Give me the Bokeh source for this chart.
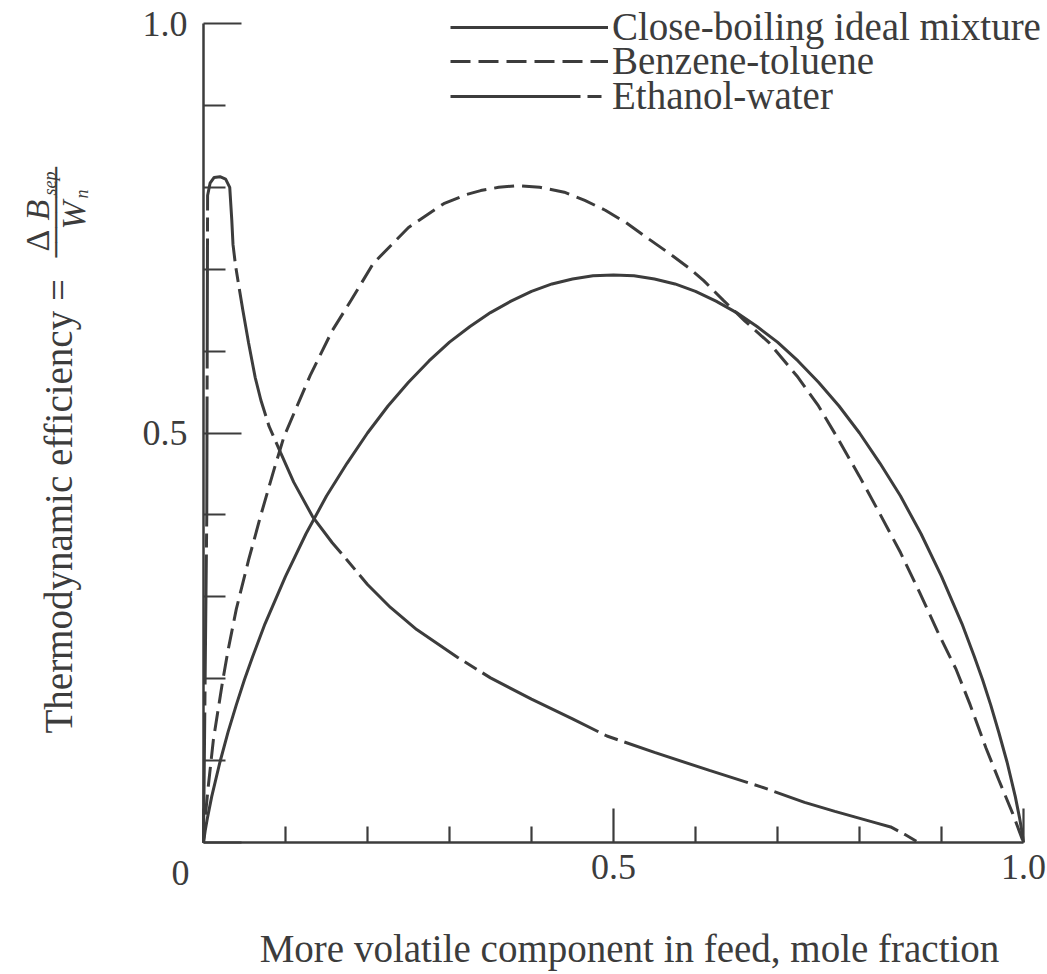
from math import pi
from bokeh.plotting import figure
from bokeh.models import Range1d, FixedTicker, Legend, LegendItem, Label
from bokeh.embed import file_html
from bokeh.resources import INLINE

# ---- data ----
ideal_x = [0, 0.002, 0.005, 0.01, 0.02, 0.03, 0.04, 0.05, 0.06, 0.075, 0.1, 0.125, 0.15, 0.175,
           0.2, 0.225, 0.25, 0.275, 0.3, 0.325, 0.35, 0.375, 0.4, 0.425, 0.45, 0.475, 0.5,
           0.525, 0.55, 0.575, 0.6, 0.625, 0.65, 0.675, 0.7, 0.725, 0.75, 0.775, 0.8, 0.825,
           0.85, 0.875, 0.9, 0.925, 0.94, 0.95, 0.96, 0.97, 0.98, 0.99, 0.995, 0.998, 1.0]
ideal_y = [0, 0.014, 0.031, 0.056, 0.098, 0.135, 0.168, 0.199, 0.227, 0.267, 0.325, 0.377,
           0.423, 0.463, 0.50, 0.533, 0.562, 0.588, 0.611, 0.630, 0.647, 0.661, 0.673, 0.682,
           0.688, 0.692, 0.693, 0.692, 0.688, 0.682, 0.673, 0.661, 0.647, 0.630, 0.611, 0.588,
           0.562, 0.533, 0.50, 0.463, 0.423, 0.377, 0.325, 0.267, 0.227, 0.199, 0.168, 0.134,
           0.098, 0.056, 0.031, 0.014, 0]

benz_x = [0, 0.003, 0.006, 0.012, 0.023, 0.03, 0.04, 0.055, 0.07, 0.085, 0.098, 0.115, 0.13,
          0.157, 0.18, 0.207, 0.25, 0.293, 0.32, 0.338, 0.36, 0.383, 0.41, 0.44, 0.465, 0.49,
          0.515, 0.54, 0.567, 0.594, 0.61, 0.634, 0.66, 0.69, 0.725, 0.75, 0.772, 0.80, 0.825,
          0.85, 0.873, 0.895, 0.918, 0.935, 0.954, 0.97, 0.987, 1.0]
benz_y = [0, 0.04, 0.07, 0.125, 0.195, 0.235, 0.285, 0.345, 0.40, 0.452, 0.495, 0.535, 0.57,
          0.625, 0.662, 0.707, 0.751, 0.780, 0.791, 0.796, 0.800, 0.802, 0.800, 0.794, 0.784,
          0.772, 0.757, 0.739, 0.720, 0.700, 0.686, 0.662, 0.637, 0.610, 0.568, 0.533, 0.496,
          0.447, 0.401, 0.354, 0.306, 0.258, 0.211, 0.168, 0.116, 0.076, 0.035, 0]

eth_x = [0, 0.004, 0.005, 0.008, 0.013, 0.02, 0.027, 0.032, 0.0345, 0.036, 0.039, 0.043,
         0.048, 0.055, 0.063, 0.07, 0.08, 0.094, 0.11, 0.133, 0.157, 0.175, 0.2, 0.228, 0.26,
         0.31, 0.35, 0.40, 0.45, 0.492, 0.55, 0.617, 0.68, 0.733, 0.77, 0.795, 0.82, 0.838,
         0.855, 0.872]
eth_y = [0, 0.40, 0.79, 0.805, 0.812, 0.813, 0.81, 0.80, 0.76, 0.73, 0.705, 0.68, 0.65, 0.61,
         0.568, 0.54, 0.508, 0.476, 0.44, 0.398, 0.366, 0.345, 0.315, 0.287, 0.26, 0.226,
         0.201, 0.175, 0.151, 0.130, 0.110, 0.088, 0.068, 0.049, 0.038, 0.031, 0.024, 0.019,
         0.010, 0]

series_names = ["Close-boiling ideal mixture", "Benzene-toluene", "Ethanol-water"]

major_ticks = [0, 0.5, 1.0]
minor_ticks = [0.1, 0.2, 0.3, 0.4, 0.6, 0.7, 0.8, 0.9]
tick_labels = {0: "", 0.5: "0.5", 1.0: "1.0"}
origin_label = "0"
x_title = "More volatile component in feed, mole fraction"
y_title = "Thermodynamic efficiency  ="

INK = "#3c3c3c"
FONT = "Liberation Serif"
FS = "36px"
FS_TITLE = "39px"

W, H = 1047, 974
X0, X1 = 203, 1023      # canvas pixels of x = 0 and x = 1
Y0, Y1 = 842, 23        # canvas pixels of y = 0 and y = 1
SX, SY = X1 - X0, Y0 - Y1

p = figure(width=W, height=H,
           x_range=Range1d(-X0 / SX, (W - X0) / SX),
           y_range=Range1d(-(H - Y0) / SY, Y0 / SY),
           output_backend="svg", toolbar_location=None,
           min_border_left=0, min_border_right=0, min_border_top=0, min_border_bottom=0)
p.outline_line_color = None
p.grid.visible = False
p.background_fill_color = "white"
p.border_fill_color = "white"

for ax in (p.xaxis[0], p.yaxis[0]):
    ax.fixed_location = 0
    ax.ticker = FixedTicker(ticks=major_ticks, minor_ticks=minor_ticks)
    ax.major_label_overrides = tick_labels
    ax.axis_line_color = INK
    ax.axis_line_width = 2.5
    ax.major_tick_line_color = INK
    ax.minor_tick_line_color = INK
    ax.major_tick_line_width = 2.2
    ax.minor_tick_line_width = 2.2
    ax.major_tick_out = 0
    ax.minor_tick_out = 0
    ax.major_label_text_font = FONT
    ax.major_label_text_font_size = FS
    ax.major_label_text_color = INK
    ax.bounds = (0, 1)

p.xaxis.major_tick_in = 34
p.xaxis.minor_tick_in = 16
p.xaxis.major_label_standoff = 12
p.yaxis.major_tick_in = 38
p.yaxis.minor_tick_in = 22
p.yaxis.major_label_standoff = 16

r1 = p.line(ideal_x, ideal_y, line_color=INK, line_width=3)
r2 = p.line(benz_x, benz_y, line_color=INK, line_width=3, line_dash="20 8")
r3 = p.line(eth_x, eth_y, line_color=INK, line_width=3, line_dash="130 7 14 7")

# one legend per row so the rows sit as closely as in the original
row_centres = [27, 61, 96]
for name, rend, cy in zip(series_names, [r1, r2, r3], row_centres):
    lg = Legend(items=[LegendItem(label=name, renderers=[rend])],
                location=(450, H - cy - 22), glyph_width=158, glyph_height=30,
                label_height=30, spacing=0, padding=0, margin=0, label_standoff=4,
                label_text_font=FONT, label_text_font_size=FS_TITLE, label_text_color=INK,
                border_line_alpha=0, background_fill_alpha=0)
    p.add_layout(lg)


def lab(text, X, Y, size=FS, angle=0.0, align="center", style="normal", font=FONT):
    # X, Y: intended canvas pixel position, mapped into the data space of the frame
    p.add_layout(Label(x=(X - X0) / SX, y=(Y0 - Y) / SY, text=text,
                       angle=angle, text_align=align, text_baseline="middle",
                       text_font=font, text_font_size=size, text_color=INK,
                       text_font_style=style))


lab(origin_label, 180, 872)
lab(x_title, 629, 948, size=FS_TITLE)
lab(y_title, 58, 733, size="39px", angle=pi / 2, align="left")
# fraction  ΔB_sep / W_n
lab("\u0394", 37, 251, size="34px", angle=pi / 2, align="left")
lab("B", 37, 220, size="34px", angle=pi / 2, align="left", style="italic")
lab("sep", 49, 195, size="18px", angle=pi / 2, align="left", style="italic")
lab("\u2500" * 6, 56, 257, size="25px", angle=pi / 2, align="left",
    font="DejaVu Sans Mono")
lab("W", 73, 229, size="34px", angle=pi / 2, align="left", style="italic")
lab("n", 81, 198, size="18px", angle=pi / 2, align="left", style="italic")

open("out.html", "w").write(file_html(p, INLINE))
